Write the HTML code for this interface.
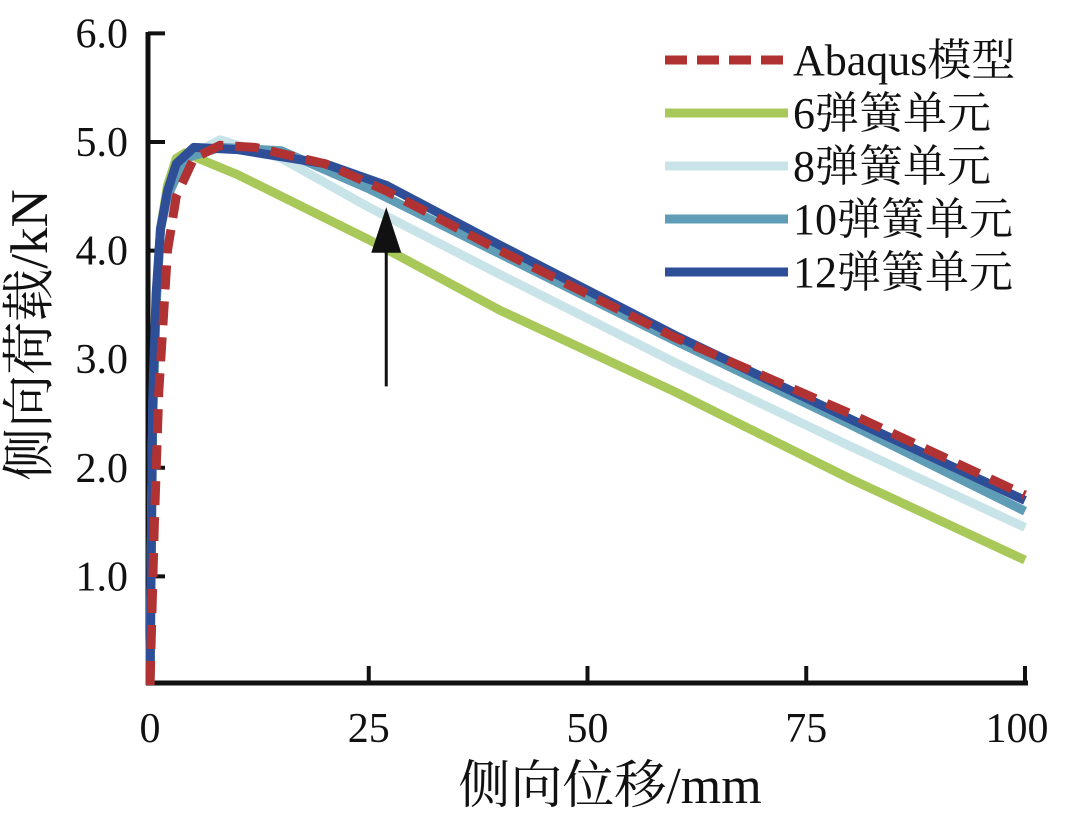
<!DOCTYPE html>
<html><head><meta charset="utf-8"><style>
body{margin:0;background:#fff}
svg text{font-family:"Liberation Serif","Noto Serif CJK SC",serif;fill:#111}
</style></head><body>
<svg width="1067" height="824">
<g id="plot"></g>
</svg>
<script>
const xTicks=[0,25,50,75,100];
const yTicks=[1.0,2.0,3.0,4.0,5.0,6.0];
const seriesNames=["Abaqus模型","6弹簧单元","8弹簧单元","10弹簧单元","12弹簧单元"];
const s6x=[0,0.3,0.7,1.2,2,3,4,10,25,40,60,80,100];
const s6y=[0,2.4,3.5,4.2,4.6,4.85,4.9,4.7,4.1,3.45,2.7,1.9,1.15];
const s8x=[0,0.3,0.7,1.2,2,4,8,15,25,40,60,80,100];
const s8y=[0,2.4,3.5,4.2,4.5,4.85,5.02,4.85,4.4,3.78,2.97,2.2,1.45];
const s10x=[0,0.3,0.7,1.2,2,4,8,15,25,40,60,80,100];
const s10y=[0,2.4,3.5,4.2,4.5,4.85,4.95,4.92,4.57,3.97,3.17,2.4,1.6];
const s12x=[0,0.3,0.7,1.2,2,3,5,10,20,27,40,60,80,100];
const s12y=[0,2.6,3.6,4.2,4.55,4.8,4.95,4.93,4.8,4.6,4.05,3.22,2.45,1.7];
const sAx=[0,0.5,1,2,3,5,8,12,20,27,40,60,80,100];
const sAy=[0,1.5,2.7,4.0,4.5,4.85,4.97,4.95,4.8,4.55,4.0,3.2,2.5,1.75];
const arrowX=[27];const arrowY=[2.75,4.4];

const X=v=>150+v*8.75;
const Y=v=>685-v*108.6;
const NS="http://www.w3.org/2000/svg";
const g=document.getElementById('plot');
function mk(t,a,p){const e=document.createElementNS(NS,t);for(const k in a)e.setAttribute(k,a[k]);(p||g).appendChild(e);return e;}
let ax=mk('line',{x1:148,y1:32,x2:148,y2:685,stroke:'#111','stroke-width':5});


let bx=mk('line',{x1:146,y1:683,x2:1028,y2:683,stroke:'#111','stroke-width':5});


yTicks.forEach(v=>{
 let t=mk('line',{x1:148,y1:Y(v),x2:165,y2:Y(v),stroke:'#111','stroke-width':4});
 
 
 let l=mk('text',{x:128,y:Y(v)+14,'text-anchor':'end','font-size':42});l.textContent=v.toFixed(1);
 
 
});
xTicks.forEach(v=>{
 if(v>0){let t=mk('line',{x1:X(v),y1:683,x2:X(v),y2:666,stroke:'#111','stroke-width':4});
 
 }
 let l=mk('text',{x:X(v)+(v==100?-8:0),y:742,'text-anchor':'middle','font-size':42});l.textContent=v;
 
 
});
let xt=mk('text',{x:610,y:803,'text-anchor':'middle','font-size':52});xt.textContent='侧向位移/mm';


let yt=mk('text',{x:0,y:0,'text-anchor':'middle','font-size':53,transform:'translate(47,335) rotate(-90)'});yt.textContent='侧向荷载/kN';


function path(xs,ys){return xs.map((x,i)=>(i?'L':'M')+X(x).toFixed(1)+','+Y(ys[i]).toFixed(1)).join('');}
const defs=[[s6x,s6y,'#a9c85a','',0],[s8x,s8y,'#c8e4e8','',0],[s10x,s10y,'#5f9cb6','',0],[s12x,s12y,'#2f4e98','',0],[sAx,sAy,'#b13232','24 12',1]];
const names=['series-6-spring','series-8-spring','series-10-spring','series-12-spring','series-abaqus'];
defs.forEach((d,i)=>{
 let p=mk('path',{d:path(d[0],d[1]),fill:'none',stroke:d[2],'stroke-width':9,'stroke-dasharray':d[3],'stroke-linejoin':'round'});
 
 
});
let al=mk('line',{x1:X(arrowX[0]),y1:Y(arrowY[0]),x2:X(arrowX[0]),y2:Y(arrowY[1])+30,stroke:'#111','stroke-width':3});


let ah=mk('polygon',{points:`${X(27)},${Y(4.4)} ${X(27)-15},${Y(3.98)} ${X(27)+15},${Y(3.98)}`,fill:'#111'});


const legCol=['#b13232','#a9c85a','#c8e4e8','#5f9cb6','#2f4e98'];
seriesNames.forEach((n,i)=>{
 const y=60+i*53;
 let l=mk('line',{x1:665,y1:y,x2:788,y2:y,stroke:legCol[i],'stroke-width':9,'stroke-dasharray':i==0?'22 10':''});
 
 
 let t=mk('text',{x:793,y:y+15,'font-size':44});t.textContent=n;
 
 
});
</script>
</body></html>
